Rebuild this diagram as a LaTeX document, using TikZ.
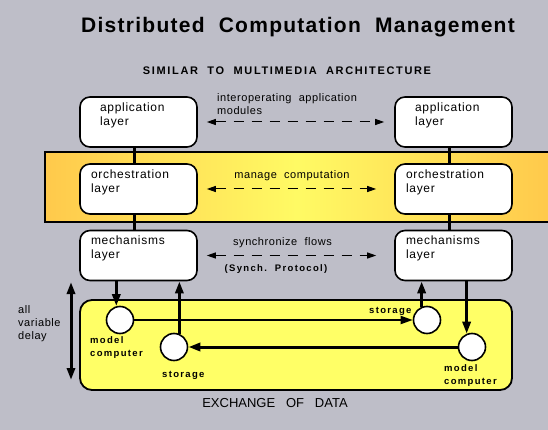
\documentclass[tikz,border=0pt]{standalone}
\usepackage{fontspec}
\setmainfont{Liberation Sans}
\newfontfamily\boxfont{Liberation Sans}[LetterSpace=6]
\newfontfamily\notefont{Liberation Sans}[LetterSpace=5]
\newfontfamily\tagfont{Liberation Sans}[LetterSpace=14]
\newfontfamily\titlefont{Liberation Sans}[LetterSpace=6]
\newfontfamily\headfont{Liberation Sans}[LetterSpace=15]
\usetikzlibrary{arrows.meta}
\definecolor{bggray}{RGB}{190,190,200}
\definecolor{bandorange}{RGB}{255,153,51}
\definecolor{bandyellow}{RGB}{255,250,100}
\definecolor{poolyellow}{RGB}{255,255,102}
\pgfdeclarehorizontalshading{bandshade}{100bp}{color(0bp)=(bandorange); color(50bp)=(bandyellow); color(100bp)=(bandorange)}

\begin{document}
\begin{tikzpicture}[x=1pt,y=-1pt,
  layerbox/.style={draw, line width=1.6pt, fill=white, rounded corners=10pt,
    minimum width=117pt, minimum height=50pt, text width=95pt, inner xsep=11pt,
    align=left, text depth=29.7pt, font=\boxfont\fontsize{12}{14}\selectfont},
  appbox/.style={layerbox, text width=77pt, inner xsep=20pt},
  link/.style={line width=2.5pt},
  peer/.style={{Triangle[length=9pt,width=6pt]}-{Triangle[length=9pt,width=6pt]},
    dash pattern=on 10pt off 8pt, line width=1pt},
  note/.style={font=\notefont\fontsize{11}{13}\selectfont, inner sep=0pt},
  tag/.style={font=\tagfont\bfseries\fontsize{9.5}{13}\selectfont, inner sep=0pt},
  unit/.style={draw, circle, line width=1.6pt, fill=white, minimum size=27pt, inner sep=0pt},
  flow/.style={-{Triangle[length=12pt,width=8pt]}, line width=3pt}]

\useasboundingbox (0,0) rectangle (548,430);
\fill[bggray] (0,0) rectangle (548,430);

% headings
\node[font=\titlefont\bfseries\fontsize{21}{25}\selectfont, anchor=base] (title) at (298,33) {Distributed\ \ Computation\ \ Management};
\node[font=\headfont\bfseries\fontsize{11}{13}\selectfont, anchor=base] (subtitle) at (287,75) {SIMILAR\ \ TO\ \ MULTIMEDIA\ \ ARCHITECTURE};

% orchestration band
\shade[shading=bandshade] (45,152) rectangle (548,222);
\draw[line width=1.5pt] (548,152) -- (45,152) -- (45,222) -- (548,222);

% layer stacks
\foreach \side/\x in {L/138.5, R/453.5} {
  \node[appbox] (app\side) at (\x,122) {application\\layer};
  \node[layerbox] (orch\side) at (\x,189) {orchestration\\layer};
  \node[layerbox] (mech\side) at (\x,255.5) {mechanisms\\layer};
  \draw[link] ([xshift=-4pt]app\side.south) -- ([xshift=-4pt]orch\side.north);
  \draw[link] ([xshift=-4pt]orch\side.south) -- ([xshift=-4pt]mech\side.north);
}

\draw[peer, shorten <=9pt, shorten >=10pt] (appL.east) -- (appR.west);
\draw[peer, shorten <=9pt, shorten >=18pt] (orchL.east) -- (orchR.west);
\draw[peer, shorten <=9pt, shorten >=18pt] (mechL.east) -- (mechR.west);

\node[note, anchor=north west, align=left] (interop) at (217,93) {interoperating\ \ application\\modules};
\node[note, anchor=base] (manage) at (292,179) {manage\ \ computation};
\node[note, anchor=base] (sync) at (282.5,245) {synchronize\ \ flows};
\node[tag, anchor=base] (proto) at (276,271) {(Synch.\ \ Protocol)};

% exchange of data
\node[draw, line width=1.8pt, fill=poolyellow, rounded corners=12pt,
  minimum width=432pt, minimum height=90pt] (pool) at (296,345) {};
\node[font=\fontsize{13}{15}\selectfont, anchor=base] (poolname) at (275,407) {EXCHANGE\ \ \ OF\ \ \ DATA};

\node[unit] (compL) at (120,320) {};
\node[unit] (storeL) at (174,347) {};
\node[unit] (storeR) at (427,320) {};
\node[unit] (compR) at (472,347) {};

\draw[flow] (compL.105 |- mechL.south) -- (compL.105);
\draw[flow] (storeL.68) -- (storeL.68 |- mechL.south);
\draw[flow] (storeR.112) -- (storeR.112 |- mechR.south);
\draw[flow] (compR.112 |- mechR.south) -- (compR.112);
\draw[flow, line width=1.8pt] (compL.east) -- (storeR.west);
\draw[flow] (compR.west) -- (storeL.east);

\node[tag, anchor=north west, align=left] (compLname) at (90,336.5) {model\\computer};
\node[tag, anchor=base west] (storeLname) at (162,377) {storage};
\node[tag, anchor=base west] (storeRname) at (369,313) {storage};
\node[tag, anchor=north west, align=left] (compRname) at (444,364) {model\\computer};

% delay span
\coordinate (delayTop) at (71,282);
\coordinate (delayBot) at (71,380);
\draw[flow, {Triangle[length=12pt,width=8pt]}-{Triangle[length=12pt,width=8pt]}] (delayTop) -- (delayBot);
\node[note, anchor=north west, align=left] (delayname) at (18,305) {all\\variable\\delay};

\end{tikzpicture}
\end{document}
